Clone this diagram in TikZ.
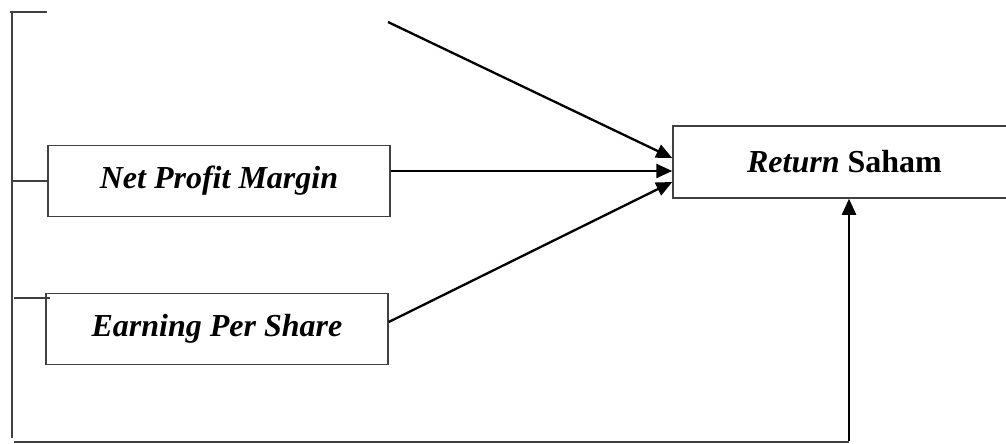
\documentclass[tikz,border=0pt]{standalone}
\usepackage{fontspec}
\setmainfont{Liberation Serif}
\usetikzlibrary{arrows.meta}
\begin{document}
\begin{tikzpicture}[x=1pt,y=-1pt,
  varbox/.style={draw=black!75,line width=1.5pt,minimum width=342pt,minimum height=71pt,
    inner sep=0pt,font=\fontsize{32}{36}\selectfont\bfseries\itshape},
  link/.style={line width=2.3pt,-{Triangle[length=16pt,width=14pt]}},
  thin/.style={draw=black!75,line width=1.2pt}]
\useasboundingbox (0,0) rectangle (1006,444);
\clip (0,0) rectangle (1006,444);

% variable boxes
\node[varbox] (npm) at (219,181) {Net Profit Margin};
\node[varbox] (eps) at (217,329) {Earning Per Share};
\node[varbox,minimum width=343pt,minimum height=72pt] (ret) at (844.5,162)
  {Return \upshape Saham};

% free ends
\coordinate (topstart) at (388,22);
\coordinate (lt) at (10,12);
\coordinate (ltend) at (47,12);
\coordinate (lb) at (12,438);
\coordinate (epsl) at (14,298);
\coordinate (epsr) at (50,298);
\coordinate (bl) at (14,442);
\coordinate (br) at (849,442);

% bracket on the left
\draw[thin] (lt) -- (ltend);
\draw[thin] (12,11) -- (lb);
\draw[thin] (12,181) -- (npm.west);
\draw[thin] (epsl) -- (epsr);

% arrows into the dependent variable
\draw[link] (topstart) -- ([yshift=4pt]ret.west);
\draw[link] ([yshift=10pt]npm.east) -- ([yshift=-9pt]ret.west);
\draw[link] ([yshift=7pt]eps.east) -- ([yshift=-20pt]ret.west);
\draw[draw=black!75,line width=2pt] (bl) -- (br);
\draw[link] ([yshift=1pt]br) -- (br |- ret.south);
\end{tikzpicture}
\end{document}
